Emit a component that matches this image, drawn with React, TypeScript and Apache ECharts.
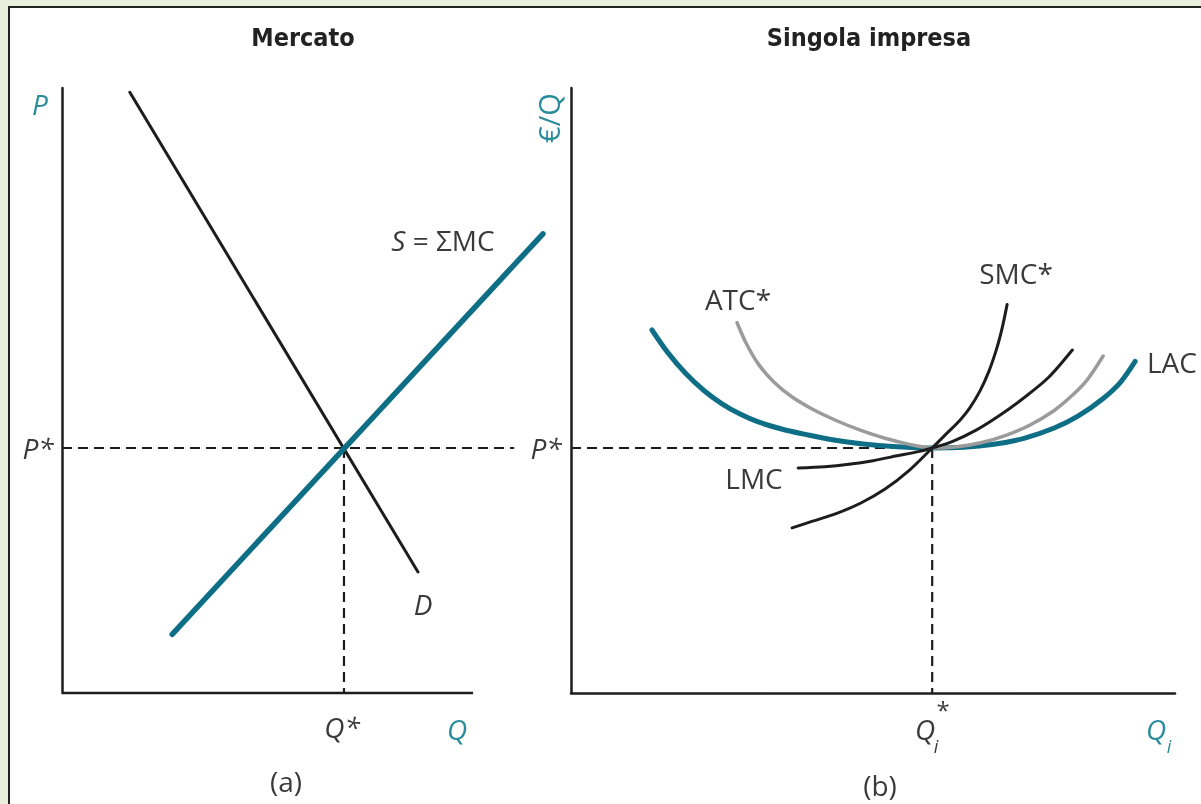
import React, { useEffect, useRef } from "react";
import * as echarts from "echarts";

// ---- Panel (a): Mercato ----
const demandQ = [1.65, 8.66];
const demandP = [9.93, 2.0];
const supplyQ = [2.68, 11.7];
const supplyP = [0.97, 7.59];
const marketEqQ = 6.86;
const marketEqP = 4.05;
const marketDashEnd = 11.0;
const marketAxisEnd = 10;
const marketViewMax = 11.75;

// ---- Panel (b): Singola impresa ----
const firmEqQ = 5.98;
const firmEqP = 4.05;
const lacQ = [1.34, 1.6, 1.9, 2.2, 2.5, 2.8, 3.1, 3.5, 3.9, 4.3, 4.8, 5.4, 5.98, 6.5, 7.0, 7.5, 8.0, 8.4, 8.8, 9.1, 9.34];
const lacC = [6.0, 5.63, 5.28, 5.0, 4.78, 4.61, 4.48, 4.36, 4.27, 4.19, 4.12, 4.07, 4.05, 4.06, 4.11, 4.21, 4.38, 4.58, 4.86, 5.14, 5.48];
const atcQ = [2.75, 2.9, 3.1, 3.35, 3.65, 4.0, 4.4, 4.8, 5.2, 5.6, 5.98, 6.4, 6.8, 7.2, 7.6, 8.0, 8.3, 8.55, 8.81];
const atcC = [6.12, 5.78, 5.44, 5.15, 4.9, 4.69, 4.5, 4.34, 4.21, 4.11, 4.05, 4.07, 4.14, 4.26, 4.43, 4.67, 4.92, 5.18, 5.57];
const smcQ = [3.66, 4.0, 4.4, 4.8, 5.2, 5.6, 5.98, 6.2, 6.44, 6.6, 6.77, 6.92, 7.05, 7.14, 7.22];
const smcC = [2.73, 2.84, 2.97, 3.14, 3.37, 3.68, 4.05, 4.27, 4.51, 4.71, 4.99, 5.32, 5.7, 6.04, 6.42];
const lmcQ = [3.76, 4.2, 4.6, 5.0, 5.4, 5.75, 5.98, 6.3, 6.7, 7.1, 7.5, 7.9, 8.3];
const lmcC = [3.72, 3.74, 3.78, 3.84, 3.92, 3.99, 4.05, 4.15, 4.34, 4.59, 4.88, 5.21, 5.67];

const TEAL = "#0e6e86";
const TEAL_TEXT = "#2a8b9b";
const INK = "#1d1d1d";
const TXT = "#3a3a3a";
const GRAY = "#9b9b9b";
const FONT = "'Open Sans', 'Noto Sans', sans-serif";
const TITLE_FONT = "'DejaVu Sans Condensed', 'DejaVu Sans', sans-serif";

const zip = (a: number[], b: number[]) => a.map((v, i) => [v, b[i]]);

function line(
  data: number[][],
  grid: number,
  color: string,
  width: number,
  opts: any = {}
) {
  return {
    type: "line",
    xAxisIndex: grid,
    yAxisIndex: grid,
    data,
    symbol: "none",
    silent: true,
    clip: false,
    lineStyle: { color, width, cap: "round", join: "round", ...(opts.lineStyle || {}) },
    smooth: opts.smooth || false,
    z: opts.z || 2,
  };
}

function dashed(data: number[][], grid: number) {
  return line(data, grid, INK, 2.2, { lineStyle: { type: [10, 6], cap: "butt" }, z: 1 });
}

function txt(text: string, x: number, y: number, o: any = {}) {
  return {
    type: "text",
    x,
    y,
    rotation: o.rotation || 0,
    z: 5,
    style: {
      text,
      fill: o.fill || TXT,
      font: `${o.style || "normal"} ${o.weight || "normal"} ${o.size || 28}px ${o.family || FONT}`,
      align: o.align || "center",
      verticalAlign: "middle",
    },
  };
}

const axisCommon = {
  min: 0,
  max: 10,
  axisLine: { show: true, onZero: false, lineStyle: { color: INK, width: 2.5 } },
  axisTick: { show: false },
  axisLabel: { show: false },
  splitLine: { show: false },
};

export default function App() {
  const ref = useRef<HTMLDivElement>(null);
  useEffect(() => {
    if (!ref.current) return;
    const chart = echarts.init(ref.current, null, { renderer: "svg" });
    chart.setOption({
      animation: false,
      grid: [
        { left: 62, top: 88, width: 483, height: 605 },
        { left: 571, top: 88, width: 604, height: 605 },
      ],
      xAxis: [
        { type: "value", gridIndex: 0, ...axisCommon, max: marketViewMax, axisLine: { show: false } },
        { type: "value", gridIndex: 1, ...axisCommon },
      ],
      yAxis: [
        { type: "value", gridIndex: 0, ...axisCommon },
        { type: "value", gridIndex: 1, ...axisCommon },
      ],
      graphic: [
        { type: "rect", z: -10, shape: { x: 0, y: 0, width: 1201, height: 804 }, style: { fill: "#e9efdc" } },
        {
          type: "rect",
          z: -9,
          shape: { x: 9, y: 7, width: 1200, height: 810 },
          style: { fill: "#ffffff", stroke: "#222222", lineWidth: 2 },
        },
        txt("Mercato", 303, 37, { weight: "bold", size: 25, family: TITLE_FONT, fill: "#222" }),
        txt("Singola impresa", 869, 37, { weight: "bold", size: 25, family: TITLE_FONT, fill: "#222" }),
        txt("P", 40, 104, { style: "italic", fill: TEAL_TEXT }),
        txt("P*", 38, 448, { style: "italic" }),
        txt("Q*", 342, 727, { style: "italic" }),
        txt("Q", 457, 729, { style: "italic", fill: TEAL_TEXT }),
        txt("(a)", 286, 781),
        {
          type: "text",
          x: 443,
          y: 240,
          z: 5,
          style: {
            text: "{it|S} = ΣMC",
            fill: TXT,
            font: `normal 28px ${FONT}`,
            align: "center",
            verticalAlign: "middle",
            rich: {
              it: { fontStyle: "italic", fontSize: 28, fontFamily: FONT, fill: TXT },
            },
          },
        },
        txt("D", 423, 604, { style: "italic" }),
        txt("€/Q", 548, 118, { fill: TEAL_TEXT, rotation: Math.PI / 2, size: 29 }),
        txt("P*", 546, 448, { style: "italic" }),
        txt("ATC*", 738, 299),
        txt("SMC*", 1016, 273),
        txt("LAC", 1147, 362, { align: "left" }),
        txt("LMC", 754, 478),
        txt("Q", 925, 729, { style: "italic" }),
        txt("i", 936, 746, { style: "italic", size: 18 }),
        txt("*", 943, 709, { size: 24 }),
        txt("Q", 1156, 729, { style: "italic", fill: TEAL_TEXT }),
        txt("i", 1169, 746, { style: "italic", size: 18, fill: TEAL_TEXT }),
        txt("(b)", 880, 785),
      ],
      series: [
        line([[0, 0], [marketAxisEnd, 0]], 0, INK, 2.5, { lineStyle: { cap: "butt" }, z: 1 }),
        dashed([[0, marketEqP], [marketDashEnd, marketEqP]], 0),
        dashed([[marketEqQ, marketEqP], [marketEqQ, 0]], 0),
        line(zip(demandQ, demandP), 0, INK, 3),
        line(zip(supplyQ, supplyP), 0, TEAL, 5.5),
        dashed([[0, firmEqP], [firmEqQ, firmEqP]], 1),
        dashed([[firmEqQ, firmEqP], [firmEqQ, 0]], 1),
        line(zip(lacQ, lacC), 1, TEAL, 5, { smooth: 0.3 }),
        line(zip(atcQ, atcC), 1, GRAY, 3.5, { smooth: 0.3, z: 3 }),
        line(zip(lmcQ, lmcC), 1, INK, 3, { smooth: 0.3, z: 4 }),
        line(zip(smcQ, smcC), 1, INK, 3, { smooth: 0.3, z: 4 }),
      ],
    });
    return () => chart.dispose();
  }, []);
  return (
    <div
      ref={ref}
      style={{ position: "fixed", left: 0, top: 0, width: 1201, height: 804 }}
    />
  );
}
